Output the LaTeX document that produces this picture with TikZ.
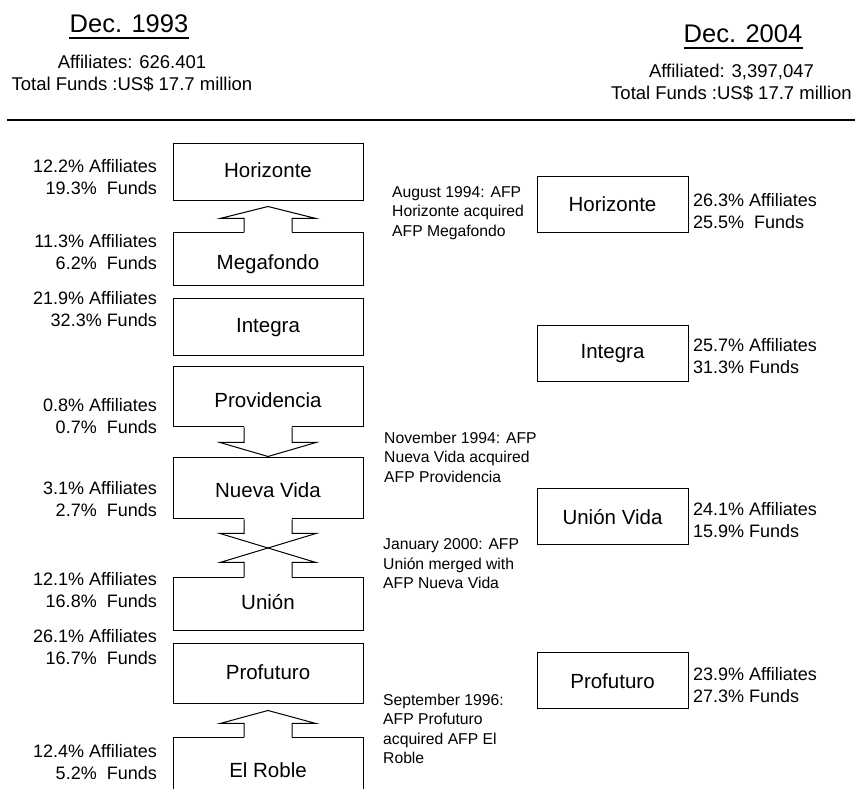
\documentclass[tikz,border=0pt]{standalone}
\usepackage{fontspec}
\setmainfont{Liberation Sans}
\usetikzlibrary{calc,positioning}
\tikzset{%
	fund/.style     = {draw, rectangle, line width=1pt, minimum width=190pt, text height=15pt, text depth=4pt, font=\fontsize{20.5}{24}\selectfont},
	newfund/.style  = {draw, rectangle, line width=1pt, minimum width=151pt, minimum height=56pt, font=\fontsize{20.5}{24}\selectfont},
	share/.style    = {inner sep=0pt, align=right, anchor=east, font=\fontsize{18}{22.5}\selectfont},
	newshare/.style = {inner sep=0pt, align=left, anchor=west, font=\fontsize{18}{22}\selectfont},
	event/.style    = {inner sep=0pt, align=left, anchor=west, font=\fontsize{15.7}{19.5}\selectfont},
	year/.style     = {inner sep=0pt, font=\fontsize{25.5}{30}\selectfont},
	head/.style     = {inner sep=0pt, align=center, font=\fontsize{18.5}{22}\selectfont},
	merge/.style    = {draw, line width=1pt, line join=miter},
	cut/.style      = {fill=white},
}

\begin{document}
\begin{tikzpicture}[x=1pt, y=1pt]
	\useasboundingbox (0,0) rectangle (855,789);
	% headings
	\node[year] (y93) at (129,765) {Dec. 1993};
	\draw[line width=1.6pt] ([yshift=-5pt]y93.base west) -- ([yshift=-5pt]y93.base east);
	\node[head] (tot93) at (132,715.5) {Affiliates: 626.401\\Total Funds :US\$ 17.7 million};
	\node[year] (y04) at (743,755) {Dec. 2004};
	\draw[line width=1.6pt] ([yshift=-5pt]y04.base west) -- ([yshift=-5pt]y04.base east);
	\node[head] (tot04) at (731.5,706.5) {Affiliated: 3,397,047\\Total Funds :US\$ 17.7 million};
	\coordinate (ruleL) at (7,669);
	\coordinate (ruleR) at (855,669);
	\draw[line width=1.2pt] (ruleL) -- (ruleR);
	% 1993
	\node[fund, minimum height=57pt] (hor) at (268,616.5) {Horizonte};
	\node[fund, minimum height=53pt, text height=25pt] (mega) at (268,529.5) {Megafondo};
	\node[fund, minimum height=57pt] (integ) at (268,461.5) {Integra};
	\node[fund, minimum height=60pt, text height=25pt] (prov) at (268,392) {Providencia};
	\node[fund, minimum height=61pt, text height=22pt] (nueva) at (268,300.5) {Nueva Vida};
	\node[fund, minimum height=53pt] (union) at (268,184.5) {Unión};
	\node[fund, minimum height=60pt] (prof) at (268,115) {Profuturo};
	\node[fund, minimum height=61pt, text height=22pt] (roble) at (268,20.5) {El Roble};
	\node[share] (horS) at (157,612) {12.2\% Affiliates\\19.3\%\ \ Funds};
	\node[share] (megaS) at (157,537) {11.3\% Affiliates\\6.2\%\ \ Funds};
	\node[share] (integS) at (157,480) {21.9\% Affiliates\\32.3\% Funds};
	\node[share] (provS) at (157,373) {0.8\% Affiliates\\0.7\%\ \ Funds};
	\node[share] (nuevaS) at (157,290) {3.1\% Affiliates\\2.7\%\ \ Funds};
	\node[share] (unionS) at (157,199) {12.1\% Affiliates\\16.8\%\ \ Funds};
	\node[share] (profS) at (157,142) {26.1\% Affiliates\\16.7\%\ \ Funds};
	\node[share] (robleS) at (157,27) {12.4\% Affiliates\\5.2\%\ \ Funds};
	% openings in the box edges
	\fill[cut] ($(mega.north)+(-24,-1)$) rectangle ($(mega.north)+(24,1)$);
	\fill[cut] ($(prov.south)+(-24,-1)$) rectangle ($(prov.south)+(24,1)$);
	\fill[cut] ($(nueva.south)+(-24,-1)$) rectangle ($(nueva.south)+(24,1)$);
	\fill[cut] ($(union.north)+(-24,-1)$) rectangle ($(union.north)+(24,1)$);
	\fill[cut] ($(roble.north)+(-24,-1)$) rectangle ($(roble.north)+(24,1)$);
	% mergers
	\draw[merge] ($(mega.north)+(-24,0)$) -- ++(0,14) -- ++(-24,0) -- ($(hor.south)+(0,-5)$) -- ($(mega.north)+(48,14)$) -- ++(-24,0) -- ++(0,-14);
	\draw[merge] ($(prov.south)+(-24,0)$) -- ++(0,-15) -- ++(-24,0) -- ($(nueva.north)+(0,1)$) -- ($(prov.south)+(48,-15)$) -- ++(-24,0) -- ++(0,15);
	\draw[merge] ($(nueva.south)+(-24,0)$) -- ++(0,-14) -- ++(-24,0) -- ($(union.north)+(48,15)$) -- ++(-24,0) -- ++(0,-15);
	\draw[merge] ($(nueva.south)+(24,0)$) -- ++(0,-14) -- ++(24,0) -- ($(union.north)+(-48,15)$) -- ++(24,0) -- ++(0,-15);
	\draw[merge] ($(roble.north)+(-24,0)$) -- ++(0,14) -- ++(-24,0) -- ($(prof.south)+(0,-6)$) -- ($(roble.north)+(48,14)$) -- ++(-24,0) -- ++(0,-14);
	% events
	\node[event] (aug) at (392,576) {August 1994: AFP\\ Horizonte acquired\\AFP Megafondo};
	\node[event] (nov) at (384,332) {November 1994: AFP\\Nueva Vida acquired\\AFP Providencia};
	\node[event] (jan) at (383,225) {January 2000: AFP\\Unión merged with\\AFP Nueva Vida};
	\node[event] (sep) at (383,60) {September 1996:\\AFP Profuturo\\acquired AFP El\\Roble};
	% 2004
	\node[newfund] (rhor) at (612.5,584.5) {Horizonte};
	\node[newfund] (rinteg) at (612.5,435) {Integra};
	\node[newfund] (runion) at (612.5,272) {Unión Vida};
	\node[newfund] (rprof) at (612.5,108) {Profuturo};
	\node[newshare] (rhorS) at (693,577.5) {26.3\% Affiliates\\25.5\%\ \ Funds};
	\node[newshare] (rintegS) at (693,433) {25.7\% Affiliates\\31.3\% Funds};
	\node[newshare] (runionS) at (693,268.5) {24.1\% Affiliates\\15.9\% Funds};
	\node[newshare] (rprofS) at (693,103.5) {23.9\% Affiliates\\27.3\% Funds};
\end{tikzpicture}
\end{document}
